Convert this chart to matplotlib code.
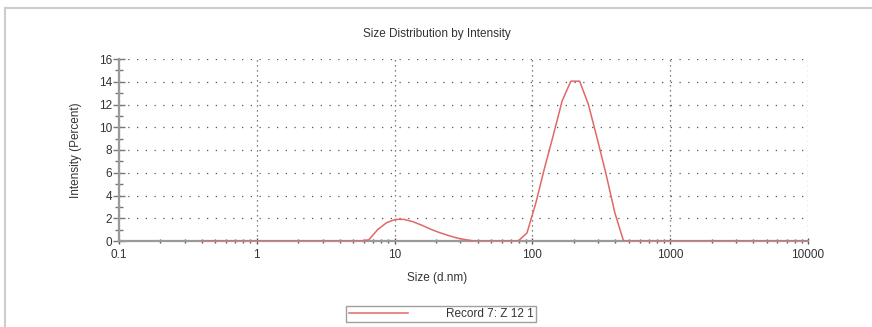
import numpy as np
import matplotlib
matplotlib.use("Agg")
import matplotlib.pyplot as plt
from matplotlib.lines import Line2D
from matplotlib.ticker import LogLocator, FixedLocator

plt.rcParams['font.family'] = ['Liberation Sans', 'DejaVu Sans']

# size bins (d.nm) and intensity (%)
sizes = [0.4, 0.4632, 0.5365, 0.6213, 0.7195, 0.8332, 0.9649, 1.117, 1.294, 1.499,
         1.736, 2.010, 2.328, 2.696, 3.122, 3.615, 4.187, 4.849, 5.615, 6.503,
         7.531, 8.721, 10.10, 11.70, 13.54, 15.69, 18.17, 21.04, 24.36, 28.21,
         32.67, 37.84, 43.82, 50.75, 58.77, 68.06, 78.82, 91.28, 105.7, 122.4,
         141.8, 164.2, 190.1, 220.2, 255.0, 295.3, 342.0, 396.1, 458.7, 531.2,
         615.1, 712.4, 825.0, 955.4, 1106, 1281, 1484, 1718, 1990, 2305,
         2669, 3091, 3580, 4145, 4801, 5560, 6439, 7456, 8635, 10000]
intensity = [0, 0, 0, 0, 0, 0, 0, 0, 0, 0,
             0, 0, 0, 0, 0, 0, 0, 0, 0, 0.1,
             1.0, 1.6, 1.9, 1.9, 1.7, 1.4, 1.05, 0.75, 0.5, 0.27,
             0.12, 0, 0, 0, 0, 0, 0, 0.7, 3.3, 6.4,
             9.3, 12.3, 14.05, 14.05, 12.0, 9.0, 5.9, 2.5, 0, 0,
             0, 0, 0, 0, 0, 0, 0, 0, 0, 0,
             0, 0, 0, 0, 0, 0, 0, 0, 0, 0]

xticks = [0.1, 1, 10, 100, 1000, 10000]
xticklabels = ["0.1", "1", "10", "100", "1000", "10000"]
yticks = [0, 2, 4, 6, 8, 10, 12, 14, 16]

fig = plt.figure(figsize=(8.72, 3.27), dpi=100)
ax = fig.add_axes([119/872, 1 - 241/327, 689/872, 182/327])

ax.plot(sizes, intensity, color="#e06868", lw=1.1, label="Record 7: Z 12 1", zorder=3)

ax.set_xscale("log")
ax.set_xlim(0.1, 10000)
ax.set_ylim(0, 16)
ax.set_xticks(xticks)
ax.set_xticklabels(xticklabels)
ax.set_yticks(yticks)
ax.yaxis.set_minor_locator(FixedLocator([1, 3, 5, 7, 9, 11, 13, 15]))
ax.xaxis.set_minor_locator(LogLocator(base=10, subs=np.arange(2, 10)))
ax.xaxis.set_minor_formatter(plt.NullFormatter())

for s in ["top", "right"]:
    ax.spines[s].set_visible(False)
for s in ["left", "bottom"]:
    ax.spines[s].set_color("#9a9a9a")
    ax.spines[s].set_linewidth(1.6)

ax.tick_params(axis="y", which="major", direction="inout", length=8, width=1, color="#777777",
               labelsize=8.5, labelcolor="#333333", pad=1)
ax.tick_params(axis="y", which="minor", direction="inout", length=6, width=1, color="#777777")
ax.tick_params(axis="x", which="major", direction="inout", length=4, width=1, color="#555555",
               labelsize=8.5, labelcolor="#333333", pad=4)
ax.tick_params(axis="x", which="minor", direction="inout", length=3, width=1, color="#555555")

ax.grid(True, axis="y", which="major", color="#555555", linestyle=(0, (1, 6)), lw=0.9)
ax.grid(True, axis="x", which="major", color="#555555", linestyle=(0, (1, 3)), lw=0.9)

ax.set_title("Size Distribution by Intensity", fontsize=8.5, color="#333333", pad=16)
ax.title.set_position((0.4615, 1.0))
ax.set_xlabel("Size (d.nm)", fontsize=8.5, color="#333333")
ax.xaxis.set_label_coords(0.4615, -0.17)
ax.set_ylabel("Intensity (Percent)", fontsize=8.5, color="#333333")
ax.yaxis.set_label_coords(-0.053, 0.5)

leg = fig.legend(loc="center", bbox_to_anchor=(441/872, 1 - 314/327), fontsize=8.5,
                 frameon=True, fancybox=False, handlelength=5.0, handletextpad=3.2,
                 borderpad=0.2, borderaxespad=0)
leg.get_frame().set_edgecolor("#888888")
leg.get_frame().set_linewidth(1.0)
for t in leg.get_texts():
    t.set_color("#333333")

# outer panel border
fig.add_artist(Line2D([5/872, 1.0], [1 - 8/327, 1 - 8/327], transform=fig.transFigure,
                      color="#cccccc", lw=1.5))
fig.add_artist(Line2D([5/872, 5/872], [0.0, 1 - 8/327], transform=fig.transFigure,
                      color="#cccccc", lw=1.5))

fig.savefig("out.png", dpi=100)
